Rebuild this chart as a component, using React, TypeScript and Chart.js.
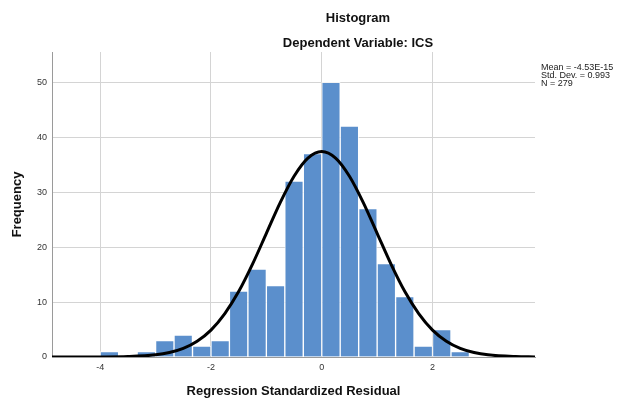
import React, { useEffect, useRef } from "react";
import { Chart, registerables } from "chart.js";

Chart.register(...registerables);

// Histogram bins (start of each bin) and their frequencies
const binStarts = [-4, -3.667, -3.333, -3, -2.667, -2.333, -2, -1.667, -1.333, -1, -0.667, -0.333, 0, 0.333, 0.667, 1, 1.333, 1.667, 2, 2.333];
const binWidth = 1 / 3;
const frequencies = [1, 0, 1, 3, 4, 2, 3, 12, 16, 13, 32, 37, 50, 42, 27, 17, 11, 2, 5, 1];

// Normal curve points
const curveX = [-4.87, -4.5, -4, -3.5, -3, -2.75, -2.5, -2.25, -2, -1.75, -1.5, -1.25, -1, -0.75, -0.5, -0.25, 0, 0.25, 0.5, 0.75, 1, 1.25, 1.5, 1.75, 2, 2.25, 2.5, 2.75, 3, 3.5, 3.85];
const curveY = [0, 0, 0.01, 0.08, 0.39, 0.81, 1.57, 2.87, 4.9, 7.9, 11.9, 16.9, 22.5, 28.1, 32.9, 36.2, 37.4, 36.2, 32.9, 28.1, 22.5, 16.9, 11.9, 7.9, 4.9, 2.87, 1.57, 0.81, 0.39, 0.08, 0.02];

const xTicks = [-4, -2, 0, 2];
const yTicks = [0, 10, 20, 30, 40, 50];
const xRange = [-4.87, 3.85];
const yRange = [0, 55.5];

const titleLines = ["Histogram", "Dependent Variable: ICS"];
const statsLines = ["Mean = -4.53E-15", "Std. Dev. = 0.993", "N = 279"];
const xTitle = "Regression Standardized Residual";
const yTitle = "Frequency";

const FONT = '"Liberation Sans", Arial, sans-serif';

const textPlugin = {
  id: "spssTexts",
  afterDraw(chart: any) {
    const ctx = chart.ctx;
    ctx.save();
    ctx.fillStyle = "#111";
    ctx.textAlign = "center";
    ctx.textBaseline = "middle";
    ctx.font = `bold 13px ${FONT}`;
    ctx.fillText(titleLines[0], 358, 18);
    ctx.fillText(titleLines[1], 358, 43);
    ctx.font = `9px ${FONT}`;
    ctx.textAlign = "left";
    ctx.fillStyle = "#222";
    statsLines.forEach((s, i) => ctx.fillText(s, 541, 68 + i * 8));
    ctx.restore();
  },
};

export default function App() {
  const ref = useRef<HTMLCanvasElement | null>(null);

  useEffect(() => {
    if (!ref.current) return;
    const barData = binStarts.map((s, i) => ({ x: s + binWidth / 2, y: frequencies[i] }));
    const lineData = curveX.map((x, i) => ({ x, y: curveY[i] }));

    const chart = new Chart(ref.current, {
      type: "bar",
      data: {
        datasets: [
          {
            type: "line",
            data: lineData,
            borderColor: "#000000",
            borderWidth: 3,
            pointRadius: 0,
            cubicInterpolationMode: "monotone",
            fill: false,
            order: 0,
          } as any,
          {
            type: "bar",
            data: barData,
            backgroundColor: "#5b8fcc",
            borderColor: "rgba(255,255,255,0.75)",
            borderWidth: 1,
            barPercentage: 1,
            categoryPercentage: 1,
            order: 1,
          } as any,
        ],
      },
      options: {
        responsive: false,
        animation: false,
        events: [],
        layout: { padding: { left: 0, right: 100, top: 52, bottom: 0 } },
        plugins: {
          legend: { display: false },
          tooltip: { enabled: false },
          title: { display: false },
        },
        scales: {
          x: {
            type: "linear",
            min: xRange[0],
            max: xRange[1],
            offset: false,
            afterBuildTicks: (s: any) => {
              s.ticks = xTicks.map((v) => ({ value: v }));
            },
            afterFit: (s: any) => {
              s.height = 42;
            },
            grid: { color: "#d4d4d4", lineWidth: 1, drawTicks: false, offset: false },
            border: { display: true, color: "#9a9a9a", width: 1 },
            ticks: {
              font: { family: FONT, size: 9 },
              color: "#333",
              padding: 5,
              maxRotation: 0,
              callback: (v: any) => String(v),
            },
            title: {
              display: true,
              text: xTitle,
              font: { family: FONT, size: 13, weight: "bold" },
              color: "#111",
              padding: { top: 4, bottom: 0 },
            },
          },
          y: {
            type: "linear",
            min: yRange[0],
            max: yRange[1],
            afterBuildTicks: (s: any) => {
              s.ticks = yTicks.map((v) => ({ value: v }));
            },
            afterFit: (s: any) => {
              s.width = 52;
            },
            grid: { color: "#d4d4d4", lineWidth: 1, drawTicks: false },
            border: { display: true, color: "#9a9a9a", width: 1 },
            ticks: {
              font: { family: FONT, size: 9 },
              color: "#333",
              padding: 5,
            },
            title: {
              display: true,
              text: yTitle,
              font: { family: FONT, size: 13, weight: "bold" },
              color: "#111",
              padding: { top: 10, bottom: 4 },
            },
          },
        },
      },
      plugins: [textPlugin],
    });
    return () => chart.destroy();
  }, []);

  return (
    <div style={{ position: "absolute", left: 0, top: 0, width: 635, height: 399, background: "#fff" }}>
      <canvas ref={ref} width={635} height={399} style={{ display: "block" }} />
    </div>
  );
}
